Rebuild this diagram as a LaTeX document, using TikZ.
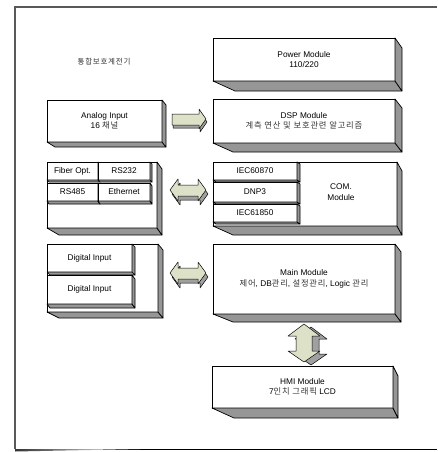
\documentclass[tikz,border=0pt]{standalone}
\usepackage{fontspec}
\setmainfont{Liberation Sans}
\newfontfamily\kr[LetterSpace=10]{Noto Sans CJK KR}
\newcommand\kt[1]{{\kr\color{black!80}#1}}
\definecolor{facegray}{RGB}{150,150,150}
\definecolor{arrowfill}{RGB}{221,225,200}
\definecolor{arrowgray}{RGB}{160,160,160}
\newcommand\frontbox[6]{%
  \node[front, minimum width={#4-#2}, minimum height={#5-#3}] (#1) at ({(#2+#4)/2},{(#3+#5)/2}) {#6};}
\newcommand\faces[4]{%
  \filldraw[face] (#1.south west) -- (#1.south east) -- ([shift={(#2,#3)}]#1.south east) -- ([shift={(#4,#3)}]#1.south west) -- cycle;
  \filldraw[face] (#1.north east) -- ([shift={(#2,#3)}]#1.north east) -- ([shift={(#2,#3)}]#1.south east) -- (#1.south east) -- cycle;}
\begin{document}
\begin{tikzpicture}[x=1pt,y=-1pt,
  front/.style={draw, fill=white, line width=0.7pt, inner sep=0pt, outer sep=0pt, align=center,
    font=\fontsize{8.3}{10.5}\selectfont},
  face/.style={draw, fill=facegray, line width=0.7pt, line join=round},
  arr/.style={draw, fill=arrowfill, line width=0.5pt, line join=round},
  arrsh/.style={draw, fill=arrowgray, line width=0.5pt, line join=round}]
\useasboundingbox (0,0) rectangle (437,452);
% frame
\draw[black!65, line width=1.3pt] (15,449) -- (15,7) -- (437,7);
\draw[black, line width=0.8pt] (15,449) -- (437,449);
\shade[left color=black!80, right color=white] (15,449) -- (140,449) -- (15,451.5) -- cycle;
% title
\node (title) at (104,62) {\fontsize{7.5}{9}\selectfont\kt{통합보호계전기}};
% Power
\frontbox{power}{213}{38}{395}{81}{Power Module\\110/220}
\faces{power}{7}{10}{22}
% DSP
\frontbox{dsp}{213}{99}{395}{143}{DSP Module\\\kt{계측 연산 및 보호관련 알고리즘}}
\faces{dsp}{7}{9}{20}
% Analog
\frontbox{analog}{47}{100}{162}{142}{Analog Input\\16 \kt{채널}}
\faces{analog}{4}{5}{8}
% comm left
\frontbox{comml}{47}{162}{157}{228}{}
\faces{comml}{5}{7}{12}
\frontbox{fiber}{47}{162}{98}{180}{Fiber Opt.}
\faces{fiber}{2}{2}{2}
\frontbox{rs232}{98}{162}{150}{180}{RS232}
\faces{rs232}{2}{2}{2}
\frontbox{rs485}{47}{183}{98}{201}{RS485}
\faces{rs485}{2}{3}{2}
\frontbox{eth}{98}{183}{150}{201}{Ethernet}
\faces{eth}{2}{3}{2}
% COM module
\frontbox{com}{213}{162}{397}{226}{}
\faces{com}{5}{9}{20}
\node[font=\fontsize{8.3}{10.5}\selectfont, align=center] (comtxt) at (341,192) {COM.\\Module};
\frontbox{iec1}{213}{162}{297}{180}{IEC60870}
\faces{iec1}{3}{2}{3}
\frontbox{dnp}{213}{182}{297}{202}{DNP3}
\faces{dnp}{3}{2}{3}
\frontbox{iec2}{213}{204}{297}{222}{IEC61850}
\faces{iec2}{3}{2}{3}
% Digital
\frontbox{digl}{47}{244}{158}{312}{}
\faces{digl}{5}{6}{12}
\frontbox{din1}{47}{244}{132}{272}{Digital Input}
\faces{din1}{3}{3}{3}
\frontbox{din2}{47}{275}{132}{304}{Digital Input}
\faces{din2}{3}{4}{3}
% Main
\frontbox{main}{213}{244}{395}{314}{Main Module\\\kt{제어}, DB\kt{관리}, \kt{설정관리}, Logic \kt{관리}}
\faces{main}{6}{8}{20}
% HMI
\frontbox{hmi}{212}{366}{393}{408}{HMI Module\\7\kt{인치 그래픽} LCD}
\faces{hmi}{5}{10}{22}
% arrows
\filldraw[arrsh, shift={(1,3)}] (172,114) -- (199,114) -- (199,109) -- (206,119) -- (199,129) -- (199,125) -- (172,125) -- cycle;
\filldraw[arr] (172,114) -- (199,114) -- (199,109) -- (206,119) -- (199,129) -- (199,125) -- (172,125) -- cycle;
\foreach \dy in {0,83}{
  \begin{scope}[shift={(0,\dy)}]
  \filldraw[arrsh, shift={(2,4)}] (170,190) -- (178,179) -- (178,185) -- (198,185) -- (198,179) -- (206,190) -- (198,201) -- (198,196) -- (178,196) -- (178,201) -- cycle;
  \filldraw[arr] (170,190) -- (178,179) -- (178,185) -- (198,185) -- (198,179) -- (206,190) -- (198,201) -- (198,196) -- (178,196) -- (178,201) -- cycle;
  \end{scope}}
\filldraw[arrsh, shift={(7,3)}] (304,324) -- (320,336) -- (312,336) -- (312,351) -- (320,351) -- (304,362) -- (288,351) -- (296,351) -- (296,336) -- (288,336) -- cycle;
\filldraw[arr] (304,324) -- (320,336) -- (312,336) -- (312,351) -- (320,351) -- (304,362) -- (288,351) -- (296,351) -- (296,336) -- (288,336) -- cycle;
\end{tikzpicture}
\end{document}
